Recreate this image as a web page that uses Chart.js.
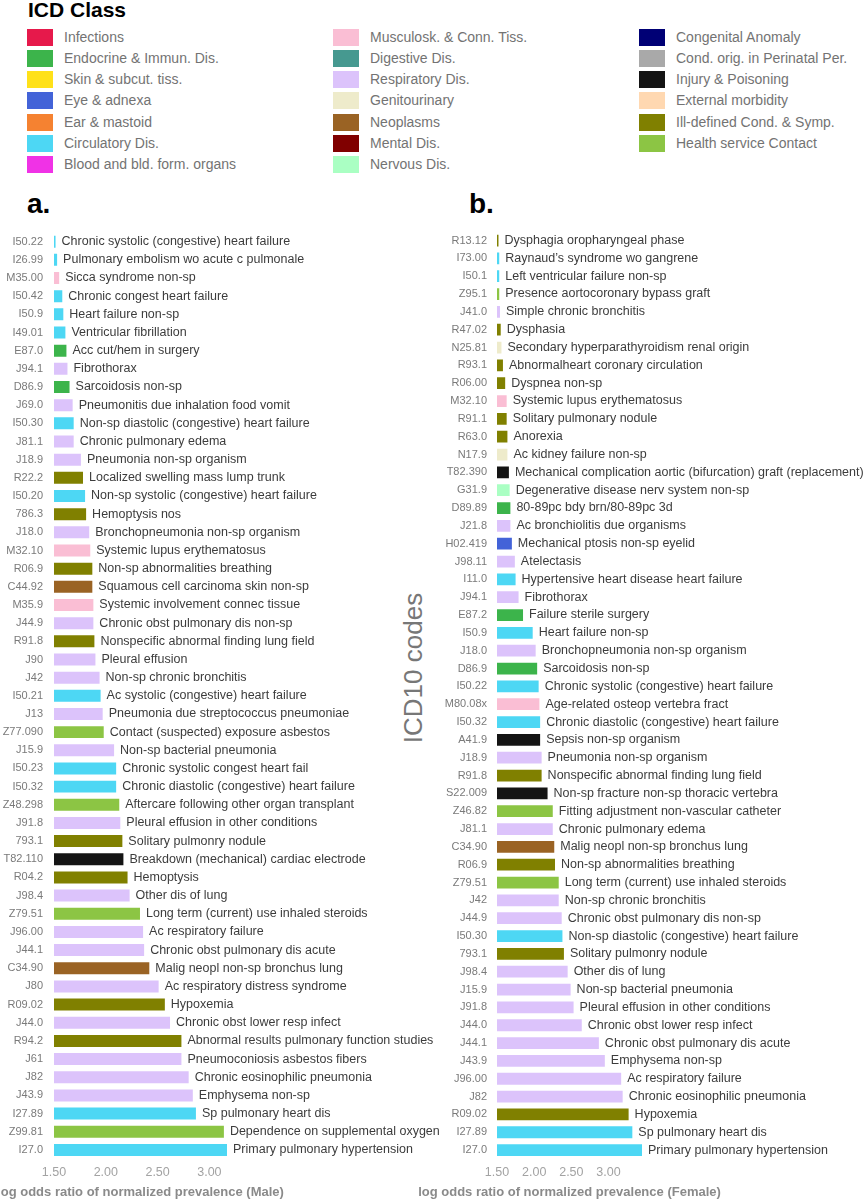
<!DOCTYPE html>
<html>
<head>
<meta charset="utf-8">
<title>ICD10 codes - log odds ratio</title>
<script src="https://cdn.jsdelivr.net/npm/chart.js@4.4.1/dist/chart.umd.min.js"></script>
<style>
  html, body { margin: 0; padding: 0; background: #fff; }
  body { width: 865px; height: 1200px; position: relative; overflow: hidden; font-family: "Liberation Sans", Arial, sans-serif; }
  #legendTitle { position: absolute; left: 28px; top: -1px; font-size: 21px; line-height: 21px; font-weight: bold; color: #000; }
  .item { position: absolute; height: 17px; }
  .swatch { position: absolute; left: 0; top: 0; width: 26px; height: 17px; }
  .txt { position: absolute; left: 37px; top: 0; line-height: 17px; font-size: 14px; color: #737373; white-space: nowrap; }
  .tag { position: absolute; top: 190px; font-size: 28px; line-height: 28px; font-weight: bold; color: #000; }
  #yTitle { position: absolute; left: 413px; top: 668px; transform: translate(-50%, -50%) rotate(-90deg); font-size: 26px; line-height: 26px; color: #777; white-space: nowrap; }
  canvas { position: absolute; }
</style>
</head>
<body>
<div id="legendTitle">ICD Class</div>
<div id="legend"></div>
<div class="tag" style="left:27px">a.</div>
<div class="tag" style="left:469px">b.</div>
<div id="yTitle">ICD10 codes</div>
<canvas id="maleChart" width="450" height="985" style="left:0px; top:215px;"></canvas>
<canvas id="femaleChart" width="467" height="985" style="left:398px; top:215px;"></canvas>

<script>
// ICD classes (legend order, column by column)
const classKeys = ['inf', 'endo', 'skin', 'eye', 'ear', 'circ', 'blood',
  'musc', 'dig', 'resp', 'genito', 'neo', 'mental', 'nerv',
  'cong', 'peri', 'injury', 'ext', 'ill', 'health'];
const classLabels = ['Infections', 'Endocrine & Immun. Dis.', 'Skin & subcut. tiss.', 'Eye & adnexa', 'Ear & mastoid', 'Circulatory Dis.', 'Blood and bld. form. organs',
  'Musculosk. & Conn. Tiss.', 'Digestive Dis.', 'Respiratory Dis.', 'Genitourinary', 'Neoplasms', 'Mental Dis.', 'Nervous Dis.',
  'Congenital Anomaly', 'Cond. orig. in Perinatal Per.', 'Injury & Poisoning', 'External morbidity', 'Ill-defined Cond. & Symp.', 'Health service Contact'];
const classColors = ['#e6194b', '#3cb44b', '#ffe119', '#4363d8', '#f58231', '#4dd7f4', '#f032e6',
  '#fabed4', '#469990', '#dcc3fb', '#eeebcb', '#9a6324', '#800000', '#aaffc3',
  '#000075', '#a9a9a9', '#141414', '#ffd8b1', '#808000', '#8cc544'];

// Panel a (Male)
const maleCodes = ['I50.22', 'I26.99', 'M35.00', 'I50.42', 'I50.9', 'I49.01', 'E87.0', 'J94.1', 'D86.9', 'J69.0',
  'I50.30', 'J81.1', 'J18.9', 'R22.2', 'I50.20', '786.3', 'J18.0', 'M32.10', 'R06.9', 'C44.92',
  'M35.9', 'J44.9', 'R91.8', 'J90', 'J42', 'I50.21', 'J13', 'Z77.090', 'J15.9', 'I50.23',
  'I50.32', 'Z48.298', 'J91.8', '793.1', 'T82.110', 'R04.2', 'J98.4', 'Z79.51', 'J96.00', 'J44.1',
  'C34.90', 'J80', 'R09.02', 'J44.0', 'R94.2', 'J61', 'J82', 'J43.9', 'I27.89', 'Z99.81', 'I27.0'];
const maleNames = ['Chronic systolic (congestive) heart failure', 'Pulmonary embolism wo acute c pulmonale', 'Sicca syndrome non-sp',
  'Chronic congest heart failure', 'Heart failure non-sp', 'Ventricular fibrillation', 'Acc cut/hem in surgery', 'Fibrothorax',
  'Sarcoidosis non-sp', 'Pneumonitis due inhalation food vomit', 'Non-sp diastolic (congestive) heart failure', 'Chronic pulmonary edema',
  'Pneumonia non-sp organism', 'Localized swelling mass lump trunk', 'Non-sp systolic (congestive) heart failure', 'Hemoptysis nos',
  'Bronchopneumonia non-sp organism', 'Systemic lupus erythematosus', 'Non-sp abnormalities breathing', 'Squamous cell carcinoma skin non-sp',
  'Systemic involvement connec tissue', 'Chronic obst pulmonary dis non-sp', 'Nonspecific abnormal finding lung field', 'Pleural effusion',
  'Non-sp chronic bronchitis', 'Ac systolic (congestive) heart failure', 'Pneumonia due streptococcus pneumoniae', 'Contact (suspected) exposure asbestos',
  'Non-sp bacterial pneumonia', 'Chronic systolic congest heart fail', 'Chronic diastolic (congestive) heart failure', 'Aftercare following other organ transplant',
  'Pleural effusion in other conditions', 'Solitary pulmonry nodule', 'Breakdown (mechanical) cardiac electrode', 'Hemoptysis',
  'Other dis of lung', 'Long term (current) use inhaled steroids', 'Ac respiratory failure', 'Chronic obst pulmonary dis acute',
  'Malig neopl non-sp bronchus lung', 'Ac respiratory distress syndrome', 'Hypoxemia', 'Chronic obst lower resp infect',
  'Abnormal results pulmonary function studies', 'Pneumoconiosis asbestos fibers', 'Chronic eosinophilic pneumonia', 'Emphysema non-sp',
  'Sp pulmonary heart dis', 'Dependence on supplemental oxygen', 'Primary pulmonary hypertension'];
const maleValues = [1.515, 1.53, 1.55, 1.58, 1.59, 1.61, 1.62, 1.63, 1.65, 1.68,
  1.69, 1.69, 1.76, 1.78, 1.80, 1.81, 1.84, 1.85, 1.87, 1.87,
  1.88, 1.88, 1.89, 1.90, 1.94, 1.95, 1.97, 1.98, 2.08, 2.10,
  2.10, 2.13, 2.14, 2.16, 2.17, 2.21, 2.23, 2.33, 2.36, 2.37,
  2.42, 2.51, 2.57, 2.62, 2.73, 2.73, 2.80, 2.84, 2.87, 3.14, 3.17];
const maleClasses = ['circ', 'circ', 'musc', 'circ', 'circ', 'circ', 'endo', 'resp', 'endo', 'resp',
  'circ', 'resp', 'resp', 'ill', 'circ', 'ill', 'resp', 'musc', 'ill', 'neo',
  'musc', 'resp', 'ill', 'resp', 'resp', 'circ', 'resp', 'health', 'resp', 'circ',
  'circ', 'health', 'resp', 'ill', 'injury', 'ill', 'resp', 'health', 'resp', 'resp',
  'neo', 'resp', 'ill', 'resp', 'ill', 'resp', 'resp', 'resp', 'circ', 'health', 'circ'];

// Panel b (Female)
const femaleCodes = ['R13.12', 'I73.00', 'I50.1', 'Z95.1', 'J41.0', 'R47.02', 'N25.81', 'R93.1', 'R06.00', 'M32.10',
  'R91.1', 'R63.0', 'N17.9', 'T82.390', 'G31.9', 'D89.89', 'J21.8', 'H02.419', 'J98.11', 'I11.0',
  'J94.1', 'E87.2', 'I50.9', 'J18.0', 'D86.9', 'I50.22', 'M80.08x', 'I50.32', 'A41.9', 'J18.9',
  'R91.8', 'S22.009', 'Z46.82', 'J81.1', 'C34.90', 'R06.9', 'Z79.51', 'J42', 'J44.9', 'I50.30',
  '793.1', 'J98.4', 'J15.9', 'J91.8', 'J44.0', 'J44.1', 'J43.9', 'J96.00', 'J82', 'R09.02', 'I27.89', 'I27.0'];
const femaleNames = ['Dysphagia oropharyngeal phase', 'Raynaud\u2019s syndrome wo gangrene', 'Left ventricular failure non-sp',
  'Presence aortocoronary bypass graft', 'Simple chronic bronchitis', 'Dysphasia', 'Secondary hyperparathyroidism renal origin',
  'Abnormalheart coronary circulation', 'Dyspnea non-sp', 'Systemic lupus erythematosus', 'Solitary pulmonary nodule', 'Anorexia',
  'Ac kidney failure non-sp', 'Mechanical complication aortic (bifurcation) graft (replacement)', 'Degenerative disease nerv system non-sp',
  '80-89pc bdy brn/80-89pc 3d', 'Ac bronchiolitis due organisms', 'Mechanical ptosis non-sp eyelid', 'Atelectasis',
  'Hypertensive heart disease heart failure', 'Fibrothorax', 'Failure sterile surgery', 'Heart failure non-sp',
  'Bronchopneumonia non-sp organism', 'Sarcoidosis non-sp', 'Chronic systolic (congestive) heart failure', 'Age-related osteop vertebra fract',
  'Chronic diastolic (congestive) heart failure', 'Sepsis non-sp organism', 'Pneumonia non-sp organism', 'Nonspecific abnormal finding lung field',
  'Non-sp fracture non-sp thoracic vertebra', 'Fitting adjustment non-vascular catheter', 'Chronic pulmonary edema', 'Malig neopl non-sp bronchus lung',
  'Non-sp abnormalities breathing', 'Long term (current) use inhaled steroids', 'Non-sp chronic bronchitis', 'Chronic obst pulmonary dis non-sp',
  'Non-sp diastolic (congestive) heart failure', 'Solitary pulmonry nodule', 'Other dis of lung', 'Non-sp bacterial pneumonia',
  'Pleural effusion in other conditions', 'Chronic obst lower resp infect', 'Chronic obst pulmonary dis acute', 'Emphysema non-sp',
  'Ac respiratory failure', 'Chronic eosinophilic pneumonia', 'Hypoxemia', 'Sp pulmonary heart dis', 'Primary pulmonary hypertension'];
const femaleValues = [1.52, 1.53, 1.53, 1.53, 1.54, 1.55, 1.56, 1.58, 1.61, 1.63,
  1.63, 1.64, 1.64, 1.66, 1.67, 1.68, 1.68, 1.70, 1.74, 1.75,
  1.79, 1.85, 1.98, 2.02, 2.04, 2.06, 2.07, 2.08, 2.08, 2.10,
  2.10, 2.18, 2.25, 2.25, 2.27, 2.28, 2.33, 2.33, 2.37, 2.38,
  2.40, 2.45, 2.49, 2.53, 2.64, 2.87, 2.95, 3.17, 3.19, 3.27, 3.32, 3.45];
const femaleClasses = ['ill', 'circ', 'circ', 'health', 'resp', 'ill', 'genito', 'ill', 'ill', 'musc',
  'ill', 'ill', 'genito', 'injury', 'nerv', 'endo', 'resp', 'eye', 'resp', 'circ',
  'resp', 'endo', 'circ', 'resp', 'endo', 'circ', 'musc', 'circ', 'injury', 'resp',
  'ill', 'injury', 'health', 'resp', 'neo', 'ill', 'health', 'resp', 'resp', 'circ',
  'ill', 'resp', 'resp', 'resp', 'resp', 'resp', 'resp', 'resp', 'resp', 'ill', 'circ', 'circ'];

const xTicks = [1.5, 2.0, 2.5, 3.0];
const axisMin = 1.5;

Chart.defaults.font.family = '"Liberation Sans", Arial, sans-serif';
Chart.defaults.animation = false;

// Legend (3 columns of 7 rows)
function buildLegend() {
  const legend = document.getElementById('legend');
  const colX = [27, 333, 639];
  classLabels.forEach((label, i) => {
    const col = Math.floor(i / 7);
    const row = i % 7;
    const item = document.createElement('div');
    item.className = 'item';
    item.style.left = colX[col] + 'px';
    item.style.top = (29 + row * 21.15) + 'px';
    item.innerHTML = `<div class="swatch" style="background:${classColors[i]}"></div><span class="txt">${label.replace(/&/g, '&amp;')}</span>`;
    legend.appendChild(item);
  });
}

function colorOf(key) {
  return classColors[classKeys.indexOf(key)];
}

// writes the description next to each bar end, and the x title under the axis
const barNames = {
  id: 'barNames',
  afterDatasetsDraw(chart, args, opts) {
    const ctx = chart.ctx;
    const meta = chart.getDatasetMeta(0);
    ctx.save();
    ctx.font = '12.5px "Liberation Sans", Arial, sans-serif';
    ctx.fillStyle = '#3c3c3c';
    ctx.textBaseline = 'middle';
    ctx.textAlign = 'left';
    meta.data.forEach((bar, i) => {
      ctx.fillText(opts.names[i], bar.x + 6, bar.y);
    });

    // x title is drawn here so it is not squeezed to the plot width
    const area = chart.chartArea;
    ctx.font = 'bold 13px "Liberation Sans", Arial, sans-serif';
    ctx.fillStyle = '#8a8a8a';
    ctx.textAlign = 'center';
    ctx.fillText(opts.title, (area.left + area.right) / 2, chart.height - 8);
    ctx.restore();
  }
};

function drawPanel(canvasId, codes, names, values, classes, title, yWidth, yPad, padRight) {
  const ctx = document.getElementById(canvasId).getContext('2d');
  return new Chart(ctx, {
    type: 'bar',
    data: {
      labels: codes,
      datasets: [{
        data: values,
        base: axisMin,
        backgroundColor: classes.map(colorOf),
        barPercentage: 0.66,
        categoryPercentage: 1.0
      }]
    },
    options: {
      indexAxis: 'y',
      responsive: false,
      layout: { padding: { top: 8, right: padRight, left: 0, bottom: 0 } },
      plugins: {
        legend: { display: false },
        tooltip: { enabled: false },
        barNames: { names: names, title: title }
      },
      scales: {
        x: {
          type: 'linear',
          min: axisMin,
          max: Math.max(...values),
          grid: { display: false, drawTicks: false },
          border: { display: false },
          afterFit: scale => { scale.height = 41; },
          afterBuildTicks: scale => { scale.ticks = xTicks.map(v => ({ value: v })); },
          ticks: {
            padding: 6,
            color: '#a3a3a3',
            font: { size: 12.5 },
            callback: v => Number(v).toFixed(2)
          }
        },
        y: {
          grid: { display: false, drawTicks: false },
          border: { display: false },
          afterFit: scale => { scale.width = yWidth; },
          ticks: {
            padding: yPad,
            autoSkip: false,
            color: '#7a7a7a',
            font: { size: 11 }
          }
        }
      }
    },
    plugins: [barNames]
  });
}

buildLegend();
drawPanel('maleChart', maleCodes, maleNames, maleValues, maleClasses,
  'log odds ratio of normalized prevalence (Male)', 54, 11, 223);
drawPanel('femaleChart', femaleCodes, femaleNames, femaleValues, femaleClasses,
  'log odds ratio of normalized prevalence (Female)', 99, 10, 223);
</script>
</body>
</html>
